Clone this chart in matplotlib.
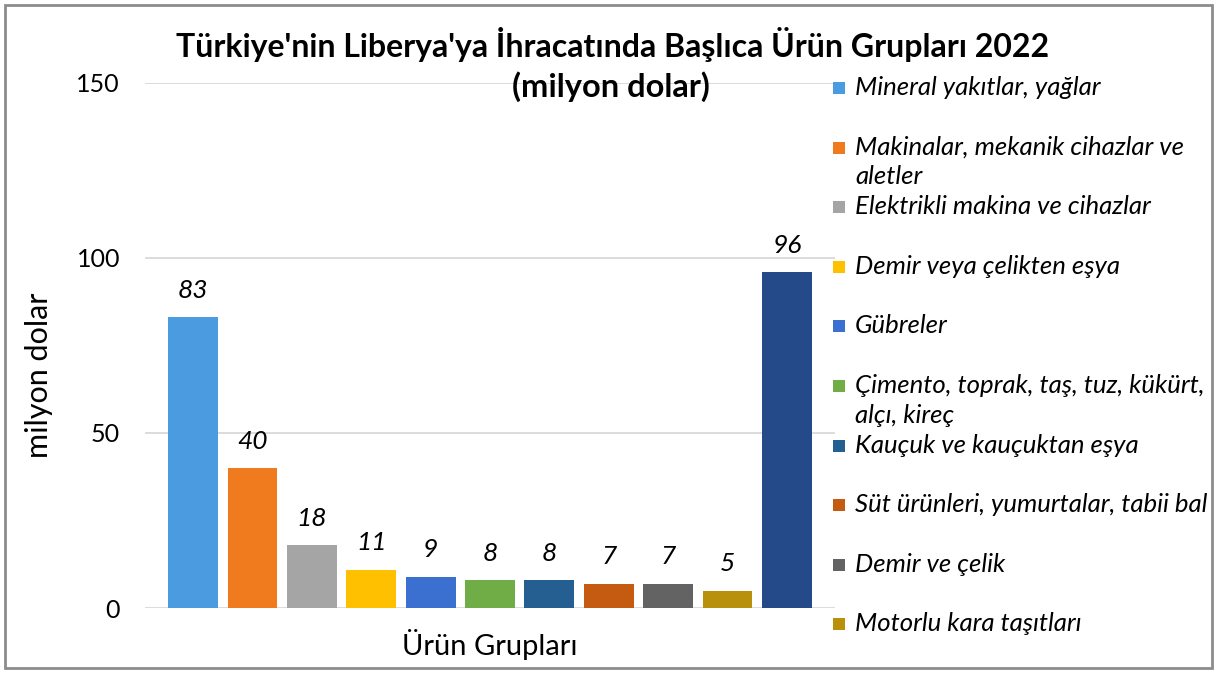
import matplotlib.pyplot as plt
from matplotlib.patches import Rectangle

# data
categories = ['Mineral yakıtlar, yağlar',
              'Makinalar, mekanik cihazlar ve\naletler',
              'Elektrikli makina ve cihazlar',
              'Demir veya çelikten eşya',
              'Gübreler',
              'Çimento, toprak, taş, tuz, kükürt,\nalçı, kireç',
              'Kauçuk ve kauçuktan eşya',
              'Süt ürünleri, yumurtalar, tabii bal',
              'Demir ve çelik',
              'Motorlu kara taşıtları',
              'Diğer']
values = [83, 40, 18, 11, 9, 8, 8, 7, 7, 5, 96]
colors = ['#4a9be0', '#f07a1e', '#a5a5a5', '#ffc000', '#3b6fd0', '#70ad47',
          '#255e91', '#c55a11', '#636363', '#b8900c', '#254a8a']
yticks = [0, 50, 100, 150]

plt.rcParams['font.family'] = ['Lato', 'DejaVu Sans']

W, H = 1219, 673
fig = plt.figure(figsize=(W / 100, H / 100), dpi=100)

ax = fig.add_axes([145 / W, 1 - 608 / H, (835 - 145) / W, (608 - 83) / H])
x = list(range(len(values)))
bars = ax.bar(x, values, width=0.84, color=colors, edgecolor='none', zorder=3)
for xi, v in zip(x, values):
    ax.text(xi, v + 7.6, str(v), ha='center', va='center', fontsize=19,
            style='italic', zorder=4)

ax.set_xlim(-0.81, 10.81)
ax.set_ylim(0, 150)
ax.set_yticks(yticks)
ax.set_xticks([])
ax.tick_params(axis='y', length=0, labelsize=18, pad=18)
ax.grid(axis='y', color='#d9d9d9', linewidth=1.3, zorder=0)
for s in ax.spines.values():
    s.set_visible(False)
ax.set_ylabel('milyon dolar', fontsize=22, labelpad=17)
ax.yaxis.label.set_y(0.444)
ax.set_xlabel('Ürün Grupları', fontsize=21, labelpad=15)

fig.text(613 / W, 1 - 45 / H, "Türkiye'nin Liberya'ya İhracatında Başlıca Ürün Grupları 2022",
         ha='center', va='center', fontsize=23, fontweight='bold')
fig.text(611 / W, 1 - 87 / H, '(milyon dolar)', ha='center', va='center',
         fontsize=23.5, fontweight='bold')

# legend drawn by hand (first 10 entries visible)
for i in range(10):
    yc = 88 + 59.6 * i
    fig.patches.append(Rectangle((833 / W, 1 - (yc + 6) / H), 12 / W, 12 / H,
                                 transform=fig.transFigure, facecolor=colors[i],
                                 edgecolor='none'))
    fig.text(855 / W, 1 - (yc - 12) / H, categories[i], ha='left', va='top',
             fontsize=18.5, style='italic', linespacing=1.36)

fig.patches.append(Rectangle((5 / W, 5 / H), (W - 12) / W, (H - 10) / H,
                             transform=fig.transFigure, facecolor='none',
                             edgecolor='#8c8c8c', linewidth=2))

fig.savefig('out.png', dpi=100)
